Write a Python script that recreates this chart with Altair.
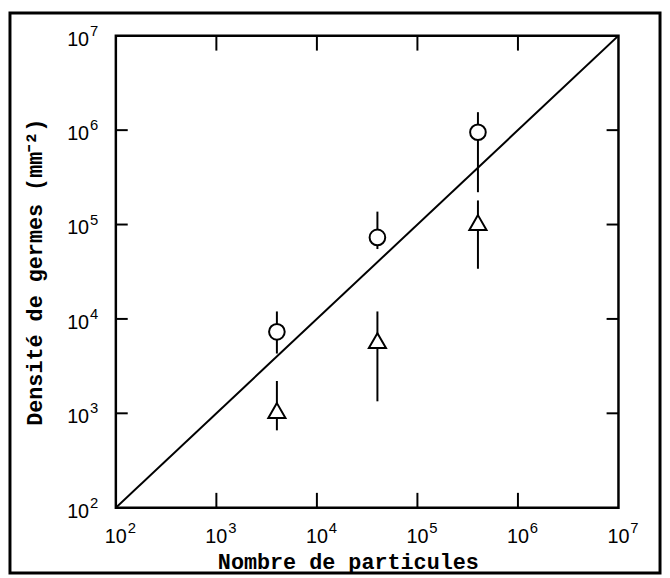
import altair as alt
import pandas as pd

# ---- data ----
x_vals = [4e3, 4e4, 4e5]
circle_y = [7.3e3, 7.3e4, 9.5e5]
circle_lo = [4.3e3, 5.5e4, 2.2e5]
circle_hi = [1.2e4, 1.37e5, 1.55e6]
tri_y = [1.07e3, 5.9e3, 1.05e5]
tri_lo = [6.6e2, 1.34e3, 3.4e4]
tri_hi = [2.2e3, 1.2e4, 1.8e5]
line_x = [1e2, 1e7]
line_y = [1e2, 1e7]
decades = [1e2, 1e3, 1e4, 1e5, 1e6, 1e7]
exponents = ["2", "3", "4", "5", "6", "7"]
inner_ticks = [1e3, 1e4, 1e5, 1e6]
x_title = "Nombre de particules"
y_title = "Densité de germes (mm⁻²)"

W, H = 508, 477

circ = pd.DataFrame({"x": x_vals, "y": circle_y, "lo": circle_lo, "hi": circle_hi})
tri = pd.DataFrame({"x": x_vals, "y": tri_y, "lo": tri_lo, "hi": tri_hi})
diag = pd.DataFrame({"x": line_x, "y": line_y})
lab = pd.DataFrame({"v": decades, "e": exponents})
tk = pd.DataFrame({"v": inner_ticks})

xs = alt.Scale(type="log", domain=[1e2, 1e7], nice=False)
ys = alt.Scale(type="log", domain=[1e2, 1e7], nice=False)

def X(f="x"):
    return alt.X(f"{f}:Q", scale=xs, axis=None)

def Y(f="y"):
    return alt.Y(f"{f}:Q", scale=ys, axis=None)

line = alt.Chart(diag).mark_line(color="black", strokeWidth=2, clip=True).encode(x=X(), y=Y())

err_c = alt.Chart(circ).mark_rule(color="black", strokeWidth=2).encode(x=X(), y=Y("lo"), y2="hi:Q")
err_t = alt.Chart(tri).mark_rule(color="black", strokeWidth=2).encode(x=X(), y=Y("lo"), y2="hi:Q")

pts_c = alt.Chart(circ).mark_point(shape="circle", size=250, filled=False, fill="white",
                                   fillOpacity=1, stroke="black", strokeWidth=2, opacity=1).encode(x=X(), y=Y())
pts_t = alt.Chart(tri).mark_point(shape="triangle-up", size=300, filled=False, fill="white",
                                  fillOpacity=1, stroke="black", strokeWidth=2, opacity=1).encode(x=X(), y=Y())

# inward ticks
t_top = alt.Chart(tk).mark_rule(color="black", strokeWidth=2).encode(
    x=X("v"), y=alt.value(0), y2=alt.value(15))
t_bot = alt.Chart(tk).mark_rule(color="black", strokeWidth=2).encode(
    x=X("v"), y=alt.value(H), y2=alt.value(H - 15))
t_left = alt.Chart(tk).mark_rule(color="black", strokeWidth=2).encode(
    y=Y("v"), x=alt.value(0), x2=alt.value(12))
t_right = alt.Chart(tk).mark_rule(color="black", strokeWidth=2).encode(
    y=Y("v"), x=alt.value(W), x2=alt.value(W - 12))

LF = "Liberation Sans"
xl_base = alt.Chart(lab).mark_text(font=LF, fontSize=20, align="center", baseline="alphabetic").encode(
    x=X("v"), y=alt.value(H + 36), text=alt.value("10"))
xl_exp = alt.Chart(lab).mark_text(font=LF, fontSize=15, align="left", baseline="alphabetic", dx=12).encode(
    x=X("v"), y=alt.value(H + 26), text="e:N")
yl_base = alt.Chart(lab).mark_text(font=LF, fontSize=20, align="right", baseline="middle", dy=4).encode(
    y=Y("v"), x=alt.value(-27), text=alt.value("10"))
yl_exp = alt.Chart(lab).mark_text(font=LF, fontSize=15, align="left", baseline="middle", dy=-5).encode(
    y=Y("v"), x=alt.value(-26), text="e:N")

one = alt.Data(values=[{"a": 1}])
TF = "Liberation Mono"
xt = alt.Chart(one).mark_text(text=x_title, font=TF, fontSize=22, fontWeight="bold",
                              align="center", baseline="alphabetic").encode(
    x=alt.value(235), y=alt.value(H + 62))
yt = alt.Chart(one).mark_text(text=y_title, font=TF, fontSize=22, fontWeight="bold",
                              align="center", baseline="middle", angle=270).encode(
    x=alt.value(-82), y=alt.value(239))

frame = alt.Chart(one).mark_rect(fill=None, stroke="black", strokeWidth=3).encode(
    x=alt.value(-107), x2=alt.value(550), y=alt.value(-23), y2=alt.value(543))

chart = alt.layer(frame, line, err_c, err_t, pts_c, pts_t, t_top, t_bot, t_left, t_right,
                  xl_base, xl_exp, yl_base, yl_exp, xt, yt).properties(
    width=W, height=H,
    autosize=alt.AutoSizeParams(type="none"),
    padding={"left": 109, "top": 25, "right": 44, "bottom": 68},
    background="white",
).configure_view(stroke="black", strokeWidth=2.5)

chart.save("out.html", embed_options={"renderer": "svg", "actions": False})
